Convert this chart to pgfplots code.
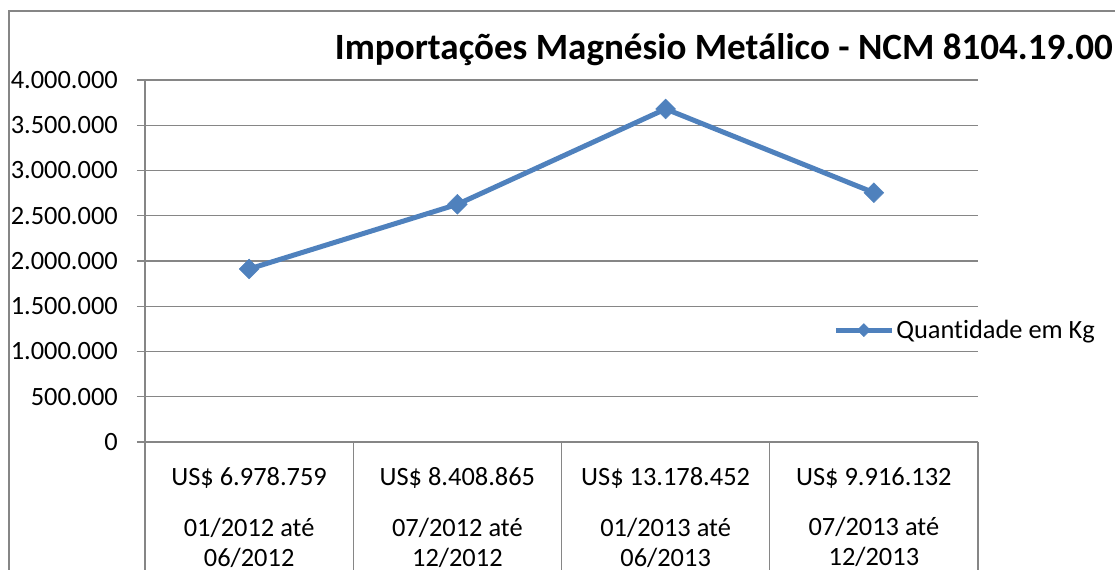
\documentclass[border=0pt]{standalone}
\usepackage{pgfplots}
\pgfplotsset{compat=1.18}
\usepackage{fontspec}
\setmainfont{Carlito}[Ligatures=NoCommon]
\definecolor{xblue}{RGB}{79,129,189}
\definecolor{xgrid}{RGB}{134,134,134}
\begin{document}
\begin{tikzpicture}[x=1bp,y=1bp]
\useasboundingbox (0,0) rectangle (1115,570);
\clip (0,0) rectangle (1115,570);
\draw[xgrid, line width=1.5bp] (9,559) rectangle (1300,-60);
\node[anchor=base east, font=\fontsize{37.2}{44}\selectfont\bfseries, inner sep=0pt] at (1113,510) {Importações Magnésio Metálico - NCM 8104.19.00};
\begin{axis}[
  at={(145bp,128bp)}, anchor=south west,
  scale only axis, width=833bp, height=362bp,
  xmin=-0.5, xmax=3.5, ymin=0, ymax=4000000,
  scaled y ticks=false,
  axis x line*=bottom, axis y line*=left,
  axis line style={xgrid, line width=1.2bp, -},
  ymajorgrids, grid style={xgrid, line width=1.2bp},
  ytick={0,500000,1000000,1500000,2000000,2500000,3000000,3500000,4000000},
  yticklabels={0,500.000,1.000.000,1.500.000,2.000.000,2.500.000,3.000.000,3.500.000,4.000.000},
  ytick style={xgrid, line width=1.2bp},
  tick align=outside, major tick length=8bp,
  yticklabel style={anchor=east, inner sep=0pt, xshift=-19bp, font=\fontsize{26.5}{30}\selectfont},
  xtick={0,1,2,3},
  xtick style={draw=none},
  xticklabels={{US\$ 6.978.759\\[21bp]01/2012 até\\06/2012},{US\$ 8.408.865\\[21bp]07/2012 até\\12/2012},{US\$ 13.178.452\\[21bp]01/2013 até\\06/2013},{US\$ 9.916.132\\[21bp]07/2013 até\\12/2013}},
  xticklabel style={align=center, anchor=north, inner sep=0pt, yshift=-17bp, font=\fontsize{26.5}{30}\selectfont},
  /pgf/number format/assume math mode=true,
  legend style={at={(0.826,0.309)}, anchor=west, draw=none, fill=none, inner sep=0pt,
    font=\fontsize{26.5}{30}\selectfont, nodes={inner sep=2bp}},
  legend image code/.code={\draw[#1, mark size=4.6bp, mark repeat=2, mark phase=2] plot coordinates {(0bp,0bp) (28bp,0bp) (56bp,0bp)};},
  clip=false,
]
\addplot[xblue, line width=5bp, mark=square*, mark size=7bp, mark options={rotate=45, solid, line width=0.5bp}]
  coordinates {(0,1912000) (1,2626000) (2,3680000) (3,2755000)};
\addlegendentry{Quantidade em Kg}
\pgfplotsinvokeforeach{-0.5,0.5,1.5,2.5,3.5}{
  \draw[xgrid, line width=1.2bp] (axis cs:#1,0) -- ([yshift=-200bp]axis cs:#1,0);
}
\end{axis}
\end{tikzpicture}
\end{document}
